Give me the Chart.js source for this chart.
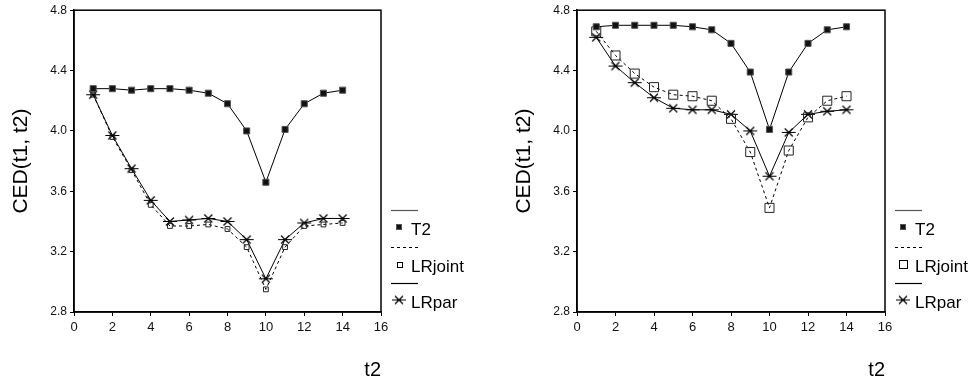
<!DOCTYPE html>
<html><head><meta charset="utf-8">
<script src="https://cdn.jsdelivr.net/npm/chart.js@4/dist/chart.umd.min.js"></script>
<style>
html,body{margin:0;padding:0;background:#fff;}
#wrap{position:relative;width:974px;height:385px;overflow:hidden;}
.box{position:absolute;top:0;width:487px;height:385px;}
</style></head><body>
<div id="wrap">
  <div class="box" style="left:0"><canvas id="c1"></canvas></div>
  <div class="box" style="left:487px"><canvas id="c2"></canvas></div>
</div>
<script>
// ---- data ----
const t2 = [1,2,3,4,5,6,7,8,9,10,11,12,13,14];
const xTickValues = [0,2,4,6,8,10,12,14,16];
const yTickValues = [2.8,3.2,3.6,4.0,4.4,4.8];
const seriesNames = ['T2','LRjoint','LRpar'];
const yTitle = 'CED(t1, t2)';
const xTitle = 't2';

const leftT2      = [4.28,4.28,4.27,4.28,4.28,4.27,4.25,4.18,4.00,3.66,4.01,4.18,4.25,4.27];
const leftLRjoint = [4.24,3.96,3.74,3.51,3.37,3.37,3.38,3.35,3.23,2.95,3.23,3.37,3.38,3.39];
const leftLRpar   = [4.24,3.97,3.75,3.54,3.40,3.41,3.42,3.40,3.28,3.02,3.28,3.39,3.42,3.42];

const rightT2      = [4.69,4.70,4.70,4.70,4.70,4.69,4.67,4.58,4.39,4.01,4.39,4.58,4.67,4.69];
const rightLRjoint = [4.66,4.50,4.38,4.29,4.24,4.23,4.20,4.08,3.86,3.49,3.87,4.09,4.20,4.23];
const rightLRpar   = [4.62,4.43,4.32,4.22,4.15,4.14,4.14,4.11,4.00,3.70,3.99,4.11,4.13,4.14];

// ---- rendering ----
const FAMILY = '"Liberation Sans", Arial, Helvetica, sans-serif';

function makeStar(){
  const c = document.createElement('canvas');
  c.width = 16; c.height = 13;
  const g = c.getContext('2d');
  g.strokeStyle = '#000'; g.lineWidth = 1.2;
  g.beginPath();
  g.moveTo(1,6.5); g.lineTo(15,6.5);
  g.moveTo(4,2.5); g.lineTo(12,10.5);
  g.moveTo(12,2.5); g.lineTo(4,10.5);
  g.stroke();
  return c;
}
const star = makeStar();

const framePlugin = {
  id:'frame',
  afterDraw(chart){
    const {left,top,right,bottom} = chart.chartArea;
    const ctx = chart.ctx;
    ctx.save();
    ctx.strokeStyle = '#000'; ctx.lineWidth = 1.5;
    ctx.strokeRect(left, top, right-left, bottom-top);
    ctx.restore();
  }
};

const legendPlugin = {
  id:'sideLegend',
  afterDraw(chart){
    const o = chart.options.plugins.sideLegend;
    const ctx = chart.ctx;
    const R = chart.chartArea.right;
    const lx0 = R + 10, lx1 = R + 37, mx = R + 18, tx = R + 30;
    const lineY = [210, 247, 283];
    const textY = [230, 267, 303];
    ctx.save();
    ctx.font = '17px ' + FAMILY;
    ctx.textBaseline = 'middle';
    ctx.fillStyle = '#000';
    seriesNames.forEach((name,i)=>{
      ctx.beginPath();
      ctx.strokeStyle = i === 0 ? '#555' : '#000';
      ctx.lineWidth = 1.2;
      ctx.setLineDash(i === 1 ? [3,3] : []);
      ctx.moveTo(lx0, lineY[i] + 0.5); ctx.lineTo(lx1, lineY[i] + 0.5);
      ctx.stroke();
      ctx.setLineDash([]);
      const my = textY[i] - 3;
      ctx.lineWidth = 1;
      if (i === 0) {
        ctx.fillStyle = '#111';
        ctx.fillRect(mx - 2.5, my - 2.5, 5, 5);
        ctx.strokeStyle = '#555';
        ctx.strokeRect(mx - 2.5, my - 2.5, 5, 5);
      } else if (i === 1) {
        const s = o.jointLegendSize;
        ctx.strokeStyle = '#000';
        ctx.strokeRect(Math.round(mx - s/2) + 0.5, Math.round(my - s/2) + 0.5, s, s);
      } else {
        ctx.drawImage(star, mx - 8, my - 6.5);
      }
      ctx.fillStyle = '#000';
      ctx.fillText(name, tx, textY[i]);
    });
    ctx.restore();
  }
};

function build(id, T2, LRjoint, LRpar, cfg){
  const pts = arr => t2.map((x,i)=>({x:x, y:arr[i]}));
  return new Chart(document.getElementById(id), {
    type:'scatter',
    data:{ datasets:[
      { label:seriesNames[0], data:pts(T2), showLine:true, borderColor:'#000', borderWidth:1,
        pointStyle:'rect', pointRadius:4.3, pointBackgroundColor:'#111', pointBorderColor:'#555', pointBorderWidth:1 },
      { label:seriesNames[1], data:pts(LRjoint), showLine:true, borderColor:'#000', borderWidth:1, borderDash:[3,3],
        pointStyle:'rect', pointRadius:cfg.jointRadius, pointBackgroundColor:'rgba(255,255,255,0)', pointBorderColor:'#222', pointBorderWidth:1 },
      { label:seriesNames[2], data:pts(LRpar), showLine:true, borderColor:'#000', borderWidth:1,
        pointStyle:star, pointRadius:6 }
    ]},
    options:{
      responsive:true, maintainAspectRatio:false, animation:false, devicePixelRatio:1,
      layout:{ padding:{ left:0, top:10, right:cfg.padRight, bottom:0 } },
      plugins:{ legend:{display:false}, tooltip:{enabled:false}, sideLegend:{ jointLegendSize:cfg.jointLegendSize } },
      scales:{
        x:{ type:'linear', min:0, max:16,
          afterBuildTicks: s => { s.ticks = xTickValues.map(v=>({value:v})); },
          afterFit: s => { s.height = 73; },
          grid:{ color:'rgba(0,0,0,0)', tickColor:'#000', tickLength:4, drawOnChartArea:false },
          border:{ color:'#000', width:1.5 },
          ticks:{ color:'#111', font:{ size:13, family:FAMILY }, padding:4, maxRotation:0, autoSkip:false },
          title:{ display:true, text:xTitle, align:'end', color:'#000', font:{ size:20, family:FAMILY }, padding:{ top:0, bottom:3 } }
        },
        y:{ type:'linear', min:2.8, max:4.8,
          afterBuildTicks: s => { s.ticks = yTickValues.map(v=>({value:v})); },
          afterFit: s => { s.width = cfg.yWidth; },
          grid:{ color:'rgba(0,0,0,0)', tickColor:'#000', tickLength:4, drawOnChartArea:false },
          border:{ color:'#000', width:1.5 },
          ticks:{ color:'#111', font:{ size:12, family:FAMILY }, padding:3, callback: v => Number(v).toFixed(1) },
          title:{ display:true, text:yTitle, color:'#000', font:{ size:21, family:FAMILY }, padding:{ top:cfg.yTitlePad, bottom:0 } }
        }
      }
    },
    plugins:[framePlugin, legendPlugin]
  });
}

build('c1', leftT2, leftLRjoint, leftLRpar, { padRight:106, yWidth:74, yTitlePad:9, jointRadius:3.4, jointLegendSize:5 });
build('c2', rightT2, rightLRjoint, rightLRpar, { padRight:89, yWidth:90, yTitlePad:25, jointRadius:6.4, jointLegendSize:8 });
</script>
</body></html>
